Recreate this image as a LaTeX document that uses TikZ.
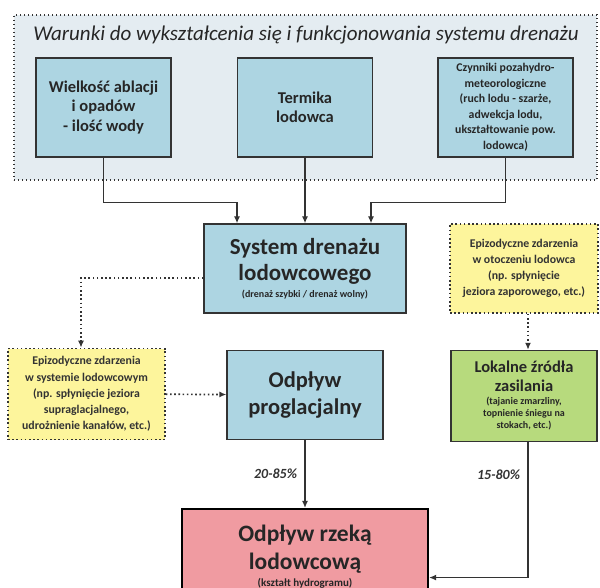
\documentclass[tikz,border=0pt]{standalone}
\usepackage{fontspec}
\setmainfont{Carlito}
\usetikzlibrary{arrows.meta,positioning}

\definecolor{boxblue}{HTML}{ADD5E2}
\definecolor{groupgrey}{HTML}{E4ECF1}
\definecolor{eventyellow}{HTML}{FDF59C}
\definecolor{sourcegreen}{HTML}{B7DA7D}
\definecolor{riverpink}{HTML}{F09BA1}
\definecolor{edgegrey}{HTML}{333333}

\newcommand{\smalltxt}{\fontsize{10}{12}\selectfont}

\begin{document}
\begin{tikzpicture}[
    x=1pt,y=-1pt,
    group/.style={rectangle,draw=edgegrey,line width=1.4pt,dash pattern=on 1.4pt off 2.6pt,fill=groupgrey,minimum width=583pt,minimum height=165pt},
    factor/.style={rectangle,draw=edgegrey,line width=1.3pt,fill=boxblue,align=center,minimum width=135pt,minimum height=99pt,inner sep=1pt,text=black!85,font=\bfseries\fontsize{16.5}{19.5}\selectfont},
    flow/.style={rectangle,draw=edgegrey,line width=1.3pt,fill=boxblue,align=center,inner sep=1pt,text=black!85,font=\bfseries\fontsize{23}{26}\selectfont},
    event/.style={rectangle,draw=edgegrey,line width=1.6pt,dash pattern=on 1.6pt off 2.6pt,fill=eventyellow,align=center,inner sep=1pt,text=black!80,font=\bfseries\fontsize{11.8}{16.2}\selectfont},
    source/.style={rectangle,draw=edgegrey,line width=1.3pt,fill=sourcegreen,align=center,inner sep=1pt,text=black!85,font=\bfseries\fontsize{16.5}{19}\selectfont},
    river/.style={rectangle,draw=black,line width=2.2pt,fill=riverpink,align=center,inner sep=1pt,text=black!85,font=\bfseries\fontsize{23.5}{28}\selectfont},
    arrow/.style={-{Latex[length=7pt,width=6pt]},line width=1.3pt,draw=edgegrey},
    dotarrow/.style={arrow,line width=1.7pt,dash pattern=on 1.6pt off 2.6pt},
    pct/.style={text=black!80,font=\bfseries\itshape\fontsize{14}{16}\selectfont}
]
\useasboundingbox (0,0) rectangle (600,588);

% conditions
\node[group] (conditions) at (305.5,97.5) {};
\node[font=\itshape\fontsize{21}{24}\selectfont,text=black!85] (title) at (306,35) {Warunki do wykształcenia się i funkcjonowania systemu drenażu};
\node[factor] (ablation) at (103.5,107.5) {Wielkość ablacji\\i opadów\\- ilość wody};
\node[factor] (thermal) at (305,107.5) {Termika\\lodowca};
\node[factor,font=\bfseries\fontsize{11.8}{15.5}\selectfont] (nonhydro) at (505.5,107.5) {Czynniki pozahydro-\\meteorologiczne\\(ruch lodu - szarże,\\adwekcja lodu,\\ukształtowanie pow.\\lodowca)};

% main column
\node[flow,minimum width=202pt,minimum height=89pt] (drainage) at (305,268.5) {System drenażu\\lodowcowego\\[-9pt]\smalltxt (drenaż szybki / drenaż wolny)};
\node[flow,font=\bfseries\fontsize{22.5}{27}\selectfont,minimum width=156pt,minimum height=89pt,below=36pt of drainage] (proglacial) {Odpływ\\proglacjalny};
\node[river,minimum width=246pt,minimum height=95pt,below=68pt of proglacial] (riverflow) {Odpływ rzeką\\lodowcową\\[-11pt]\fontsize{11}{13}\selectfont (kształt hydrogramu)};

% side boxes
\node[event,minimum width=157pt,minimum height=91pt] (glacialevent) at (86.5,394) {Epizodyczne zdarzenia\\w systemie lodowcowym\\(np. spłynięcie jeziora\\supraglacjalnego,\\udrożnienie kanałów, etc.)};
\node[event,minimum width=148pt,minimum height=89pt] (outerevent) at (524,268.5) {Epizodyczne zdarzenia\\w otoczeniu lodowca\\(np. spłynięcie\\jeziora zaporowego, etc.)};
\node[source,minimum width=146pt,minimum height=91pt,below=36pt of outerevent] (localsrc) {Lokalne źródła\\zasilania\\[-6pt]\smalltxt (tajanie zmarzliny,\\[-7pt]\smalltxt topnienie śniegu na\\[-7pt]\smalltxt stokach, etc.)};

% connectors
\coordinate (inleft) at ([xshift=-68pt]drainage.north);
\coordinate (inright) at ([xshift=66pt]drainage.north);
\draw[arrow] (ablation.south) -- ++(0,45) -| (inleft);
\draw[arrow] (thermal) -- (drainage);
\draw[arrow] (nonhydro.south) -- ++(0,45) -| (inright);
\draw[dotarrow] ([yshift=-9.5pt]drainage.west) -| ([xshift=-5.5pt]glacialevent.north);
\draw[dotarrow] (glacialevent) -- (proglacial);
\draw[dotarrow] ([xshift=4pt]outerevent.south) -- ([xshift=4pt]localsrc.north);
\draw[arrow] (proglacial) -- node[pct,left=4pt] {20-85\%} (riverflow);
\draw[arrow] ([xshift=4pt]localsrc.south) |- node[pct,left=4pt,pos=0.12] {15-80\%} ([yshift=-21pt]riverflow.east);
\end{tikzpicture}
\end{document}
